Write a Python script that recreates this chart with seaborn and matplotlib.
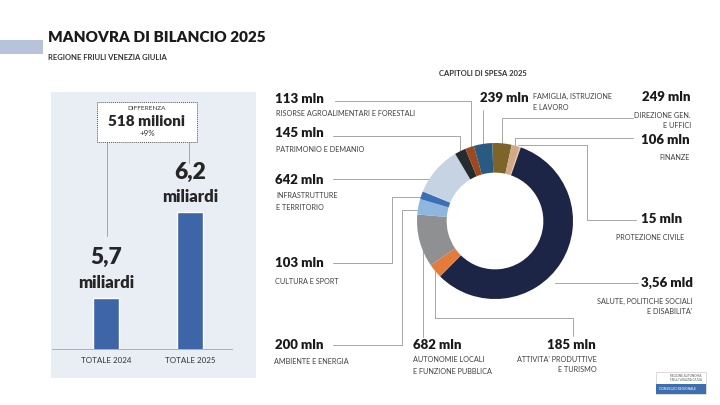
import matplotlib
matplotlib.use("Agg")
import matplotlib.pyplot as plt
import matplotlib.patches as mpatches
import seaborn as sns

# data
years = ["TOTALE 2024", "TOTALE 2025"]
totals = [5.7, 6.2]
total_labels = ["5,7", "6,2"]

cap_names = ["DIREZIONE GEN. E UFFICI", "FINANZE", "PROTEZIONE CIVILE",
             "SALUTE, POLITICHE SOCIALI E DISABILITA'", "ATTIVITA' PRODUTTIVE E TURISMO",
             "AUTONOMIE LOCALI E FUNZIONE PUBBLICA", "AMBIENTE E ENERGIA", "CULTURA E SPORT",
             "INFRASTRUTTURE E TERRITORIO", "PATRIMONIO E DEMANIO",
             "RISORSE AGROALIMENTARI E FORESTALI", "FAMIGLIA, ISTRUZIONE E LAVORO"]
cap_values = [249, 106, 15, 3560, 185, 682, 200, 103, 642, 145, 113, 239]
cap_labels = ["249 mln", "106 mln", "15 mln", "3,56 mld", "185 mln", "682 mln",
              "200 mln", "103 mln", "642 mln", "145 mln", "113 mln", "239 mln"]
cap_colors = ["#7d6428", "#d2a987", "#e8c9a8", "#1c2545", "#e47b3a", "#8f9091",
              "#8fb7de", "#3c6fb6", "#c5d3e3", "#252b2e", "#9c4a1d", "#2a5982"]

sns.set_theme(style="white")
plt.rcParams["font.family"] = ["Lato", "DejaVu Sans"]

W, H = 720, 405
fig = plt.figure(figsize=(7.2, 4.05), dpi=100)


def box(x0, y0, x1, y1):
    return [x0 / W, 1 - y1 / H, (x1 - x0) / W, (y1 - y0) / H]


# overlay in pixel coords
ov = fig.add_axes([0, 0, 1, 1], zorder=0)
ov.set_xlim(0, W)
ov.set_ylim(H, 0)
ov.axis("off")

dark = "#1a1a1a"
grey_txt = "#404040"
line_c = "#a6a6a6"
heavy = "heavy"

# header
ov.add_patch(mpatches.Rectangle((0, 40), 43, 14, color="#b7c3da", lw=0))
ov.text(48, 38, "MANOVRA DI BILANCIO 2025", fontsize=11, fontweight=heavy,
        color=dark, va="center")
ov.text(48, 58, "REGIONE FRIULI VENEZIA GIULIA", fontsize=5.5, fontweight="bold",
        color="#333333", va="center")
ov.text(483, 73, "CAPITOLI DI SPESA 2025", fontsize=5.5, fontweight="bold",
        color="#333333", va="center", ha="center")

# left panel
ov.add_patch(mpatches.Rectangle((51, 92), 205, 286, color="#e9eef4", lw=0))

# bars
axb = fig.add_axes(box(52, 100, 232, 349), zorder=1)
axb.patch.set_alpha(0)
sns.barplot(x=years, y=totals, color="#3f65a9", width=0.31, saturation=1, ax=axb)
axb.set_xlim(-0.64, 1.5)
axb.set_ylim(5.4, 6.856)
axb.set_yticks([])
axb.set_xlabel("")
axb.set_ylabel("")
for s in ["top", "left", "right"]:
    axb.spines[s].set_visible(False)
axb.spines["bottom"].set_color("#b0b0b0")
axb.spines["bottom"].set_linewidth(0.7)
axb.tick_params(axis="x", length=0, pad=6, labelsize=5.8, labelcolor="#333333")
for i, v in enumerate(totals):
    axb.annotate(total_labels[i], (i, v), xytext=(0, 40), textcoords="offset pixels",
                 ha="center", va="center", fontsize=16.5, fontweight=heavy, color="#262626")
    axb.annotate("miliardi", (i, v), xytext=(0, 15), textcoords="offset pixels",
                 ha="center", va="center", fontsize=12, fontweight=heavy, color="#262626")

# difference box
ov.plot([107, 107], [142, 236], color=line_c, lw=0.7)
ov.plot([189, 189], [142, 163], color=line_c, lw=0.7)
ov.add_patch(mpatches.Rectangle((97, 102), 100, 40, facecolor="white",
                                edgecolor="#555555", lw=0.7, ls=(0, (1, 1)), zorder=3))
ov.text(147, 108, "DIFFERENZA", fontsize=4.6, color="#333333", ha="center", va="center", zorder=4)
ov.text(147, 121, "518 milioni", fontsize=11, fontweight=heavy, color="#262626",
        ha="center", va="center", zorder=4)
ov.text(147, 134, "+9%", fontsize=5.8, color="#333333", ha="center", va="center", zorder=4)

# leader lines
paths = [
    [(335, 101), (471, 101), (471, 147)],
    [(333, 136), (460, 136), (460, 153)],
    [(333, 179), (432, 179)],
    [(333, 263), (392, 263), (392, 197), (420, 197)],
    [(333, 345), (402, 345), (402, 210), (418, 210)],
    [(423, 250), (423, 337)],
    [(435, 268), (435, 318), (573, 318), (573, 336)],
    [(483, 110), (483, 146)],
    [(502, 146), (502, 118), (633, 118)],
    [(515, 147), (515, 138), (633, 138)],
    [(518, 145), (587, 145), (587, 220), (636, 220)],
    [(555, 283), (638, 283)],
]
for p in paths:
    ov.plot([a for a, b in p], [b for a, b in p], color=line_c, lw=0.7)

# donut
axp = fig.add_axes(box(417, 143, 573, 299), zorder=2)
axp.pie(cap_values, colors=cap_colors, startangle=92, counterclock=False,
        wedgeprops=dict(width=0.38, linewidth=0))
axp.set_xlim(-1, 1)
axp.set_ylim(-1, 1)

# labels: (x, y, ha, sub x, sub-line y's)
label_pos = {
    "113 mln": (275, 99, "left", 276, [113]),
    "145 mln": (275, 133, "left", 276, [149]),
    "642 mln": (275, 180, "left", 276, [196, 207]),
    "103 mln": (275, 263, "left", 275, [282]),
    "200 mln": (275, 345, "left", 274, [361]),
    "682 mln": (413, 345, "left", 413, [360, 371]),
    "185 mln": (596, 345, "right", 597, [359, 370]),
    "239 mln": (480, 98, "left", 533, [96, 108]),
    "249 mln": (690, 97, "right", 691, [115, 125]),
    "106 mln": (690, 140, "right", 690, [157]),
    "15 mln": (682, 219, "right", 684, [237]),
    "3,56 mld": (693, 283, "right", 692, [301, 311]),
}
sub_lines = {
    "113 mln": ["RISORSE AGROALIMENTARI E FORESTALI"],
    "145 mln": ["PATRIMONIO E DEMANIO"],
    "642 mln": ["INFRASTRUTTURE", "E TERRITORIO"],
    "103 mln": ["CULTURA E SPORT"],
    "200 mln": ["AMBIENTE E ENERGIA"],
    "682 mln": ["AUTONOMIE LOCALI", "E FUNZIONE PUBBLICA"],
    "185 mln": ["ATTIVITA' PRODUTTIVE", "E TURISMO"],
    "239 mln": ["FAMIGLIA, ISTRUZIONE", "E LAVORO"],
    "249 mln": ["DIREZIONE GEN.", "E UFFICI"],
    "106 mln": ["FINANZE"],
    "15 mln": ["PROTEZIONE CIVILE"],
    "3,56 mld": ["SALUTE, POLITICHE SOCIALI", "E DISABILITA'"],
}
for lab in cap_labels:
    x, y, ha, sx, sub_y = label_pos[lab]
    ov.text(x, y, lab, fontsize=9.5, fontweight=heavy, color=dark, ha=ha, va="center")
    for txt, sy in zip(sub_lines[lab], sub_y):
        ov.text(sx, sy, txt, fontsize=5.2, color=grey_txt, ha=ha, va="center")

# logo
ov.add_patch(mpatches.Rectangle((656, 372), 50, 22, facecolor="white", edgecolor="#cccccc", lw=0.5))
ov.add_patch(mpatches.Rectangle((656, 384), 50, 10, facecolor="#3d6fb0", lw=0))
ov.text(670, 376, "REGIONE AUTONOMA", fontsize=2.2, color="#555555", va="center")
ov.text(670, 380, "FRIULI VENEZIA GIULIA", fontsize=2.2, color="#555555", va="center")
ov.text(659, 389, "CONSIGLIO REGIONALE", fontsize=2.4, color="white", va="center")

fig.savefig("out.png", dpi=100)
